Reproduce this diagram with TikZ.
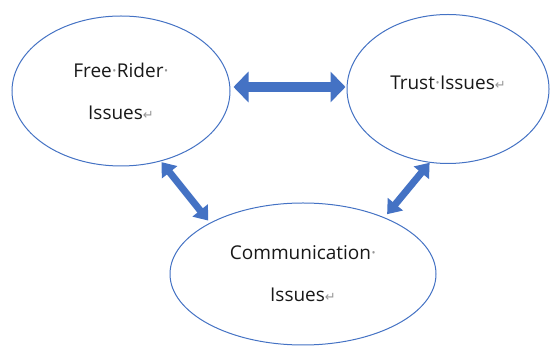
\documentclass[tikz,border=0pt]{standalone}
\usepackage{fontspec}
\setmainfont{Open Sans}
\newfontfamily\symfont{DejaVu Sans}
\usetikzlibrary{shapes.geometric,arrows.meta}
\definecolor{wordblue}{RGB}{68,114,196}
\definecolor{markgray}{RGB}{150,150,150}
\newcommand{\dotmark}{\textcolor{markgray}{·}}
\newcommand{\retmark}{\textcolor{markgray}{\symfont\fontsize{13}{13}\selectfont ↵}}
\tikzset{
  bubble/.style={ellipse, draw=wordblue, line width=1pt, fill=white, inner sep=0pt,
    align=center, text=black!90, font=\fontsize{19}{42}\selectfont},
  bigarrow/.style={draw=wordblue, line width=10pt, {Triangle[width=30pt,length=15pt]}-{Triangle[width=30pt,length=15pt]}},
  smallarrow/.style={draw=wordblue, line width=7pt, {Triangle[width=19pt,length=13pt]}-{Triangle[width=19pt,length=13pt]}}
}
\begin{document}
\begin{tikzpicture}[x=1pt,y=1pt]
\useasboundingbox (0,0) rectangle (553,347);
\node[bubble, minimum width=218pt, minimum height=150pt] (fr) at (121,256)
  {Free\dotmark Rider\dotmark\\Issues\retmark};
\node[bubble, minimum width=202pt, minimum height=149pt] (tr) at (448,258)
  {\raisebox{12pt}{Trust\dotmark Issues\retmark}};
\node[bubble, minimum width=266pt, minimum height=142pt] (cm) at (303,73)
  {Communication\dotmark\\Issues\retmark};
\draw[bigarrow] ([shift={(3,4)}]fr.east) -- ([shift={(-1,2)}]tr.west);
\draw[smallarrow] ([shift={(0,-1)}]fr.-60) -- ([shift={(-2,2)}]cm.151);
\draw[smallarrow] (tr.256) -- ([shift={(3,3)}]cm.35);
\end{tikzpicture}
\end{document}
